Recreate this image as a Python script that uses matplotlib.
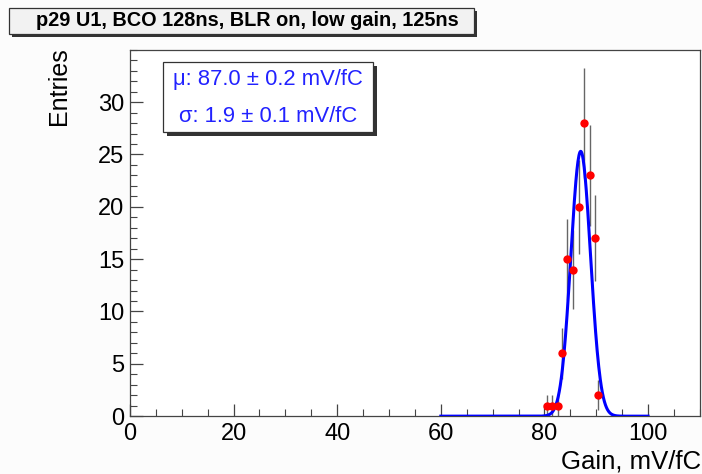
import numpy as np
import matplotlib.pyplot as plt
from matplotlib.patches import Rectangle

# Dati
gain = [80.4, 81.4, 82.7, 83.4, 84.4, 85.5, 86.7, 87.6, 88.7, 89.7, 90.3]
entries = [1, 1, 1, 6, 15, 14, 20, 28, 23, 17, 2]
errori = [np.sqrt(n) for n in entries]

# Parametri del fit gaussiano
fit_ampiezza = 25.3
fit_media = 87.0
fit_sigma = 1.9
fit_range = (60, 100)

titolo = "p29 U1, BCO 128ns, BLR on, low gain, 125ns"
testo_mu = "\u03bc: 87.0 \u00b1 0.2 mV/fC"
testo_sigma = "\u03c3: 1.9 \u00b1 0.1 mV/fC"

plt.rcParams['font.family'] = ['Liberation Sans', 'DejaVu Sans']

fig = plt.figure(figsize=(7.02, 4.74), dpi=100)
fig.patch.set_facecolor('#fcfcfc')
ax = fig.add_axes([0.185, 0.122, 0.812, 0.773])
ax.set_facecolor('white')

x_fit = np.linspace(fit_range[0], fit_range[1], 400)
y_fit = fit_ampiezza * np.exp(-0.5 * ((x_fit - fit_media) / fit_sigma) ** 2)

ax.errorbar(gain, entries, yerr=errori, fmt='none', ecolor='#666666', elinewidth=1.0, zorder=2)
ax.plot(x_fit, y_fit, color='#0000ff', lw=2.2, zorder=3)
ax.plot(gain, entries, 'o', color='#ff0000', ms=6, mec='none', zorder=4)

ax.set_xlim(0, 110)
ax.set_ylim(0, 35)
ax.set_xticks([0, 20, 40, 60, 80, 100])
ax.set_xticks(np.arange(0, 111, 5), minor=True)
ax.set_yticks([0, 5, 10, 15, 20, 25, 30])
ax.set_yticks(np.arange(0, 36, 1), minor=True)
ax.tick_params(which='both', direction='in', top=False, right=False, labelsize=17, color='#444444')
ax.tick_params(which='major', length=9, width=0.9)
ax.tick_params(which='minor', length=5, width=0.8)
ax.tick_params(axis='x', pad=5)
ax.tick_params(axis='y', pad=4)
for s in ax.spines.values():
    s.set_color('#444444')
    s.set_linewidth(0.9)

fig.text(59 / 702, 1 - 47 / 474, "Entries", rotation=90, ha='center', va='top', fontsize=18)
fig.text(701 / 702, 1 - 461 / 474, "Gain, mV/fC", ha='right', va='center', fontsize=18.5)

# Box del titolo con ombra
fig.patches.append(Rectangle((12 / 702, 1 - 37 / 474), 465 / 702, 26 / 474,
                             transform=fig.transFigure, facecolor='#333333', edgecolor='none'))
fig.patches.append(Rectangle((9 / 702, 1 - 34 / 474), 465 / 702, 26 / 474,
                             transform=fig.transFigure, facecolor='#f2f2f2', edgecolor='#333333', lw=0.9))
fig.text(247 / 702, 1 - 21 / 474, titolo, ha='center', va='center', fontsize=14.3, fontweight='bold')

# Box delle statistiche con ombra
fig.patches.append(Rectangle((167 / 702, 1 - 136 / 474), 210 / 702, 70 / 474,
                             transform=fig.transFigure, facecolor='#333333', edgecolor='none', zorder=5))
fig.patches.append(Rectangle((163 / 702, 1 - 132 / 474), 210 / 702, 70 / 474,
                             transform=fig.transFigure, facecolor='white', edgecolor='#333333', lw=0.9, zorder=6))
fig.text(268 / 702, 1 - 80 / 474, testo_mu, ha='center', va='center', fontsize=15.8, color='#2222ff', zorder=7)
fig.text(268 / 702, 1 - 116 / 474, testo_sigma, ha='center', va='center', fontsize=15.8, color='#2222ff', zorder=7)

fig.savefig('out.png', dpi=100, facecolor=fig.get_facecolor())
